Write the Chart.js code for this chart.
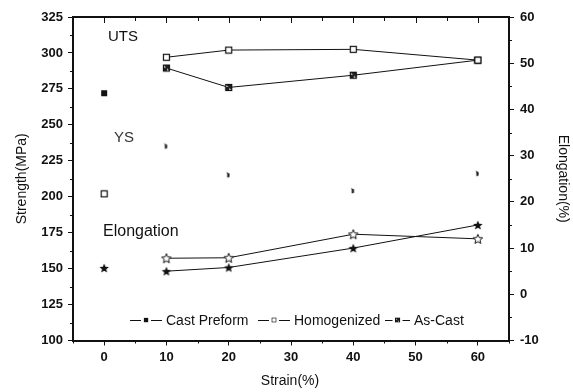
<!DOCTYPE html>
<html>
<head>
<meta charset="utf-8">
<script src="https://cdn.jsdelivr.net/npm/chart.js@4.4.1/dist/chart.umd.min.js"></script>
<style>
  html, body { margin: 0; padding: 0; background: #fff; }
  #wrap { width: 573px; height: 392px; }
</style>
</head>
<body>
<div id="wrap"><canvas id="chart" width="573" height="392"></canvas></div>
<script>
/* ===== data ===== */
const strainTicks = [0, 10, 20, 30, 40, 50, 60];
const strengthTicks = [100, 125, 150, 175, 200, 225, 250, 275, 300, 325];
const elongTicks = [-10, 0, 10, 20, 30, 40, 50, 60];

const preformStrain = [0];
const strain = [10, 20, 40, 60];

// UTS (MPa)
const utsPreform = [272];
const utsHomogenized = [297, 302, 302.5, 295];
const utsAsCast = [289.5, 276, 284.5, 295];

// YS (MPa)
const ysPreform = [202];
const ysDeformed = [235, 215, 204, 216];

// Elongation (%)
const elongPreform = [5.7];
const elongHomogenized = [7.8, 7.9, 13, 12];
const elongAsCast = [5, 5.8, 10, 15];

const FONT = '"Liberation Sans", Arial, sans-serif';

/* ===== point marks ===== */
function mark(size, draw) {
    const c = document.createElement('canvas');
    c.width = size; c.height = size;
    draw(c.getContext('2d'), size);
    return c;
}

function starPath(g, cx, cy, r) {
    g.beginPath();
    for (let i = 0; i < 10; i++) {
        const rr = i % 2 === 0 ? r : r * 0.45;
        const a = -Math.PI / 2 + i * Math.PI / 5;
        const px = cx + rr * Math.cos(a), py = cy + rr * Math.sin(a);
        if (i === 0) g.moveTo(px, py); else g.lineTo(px, py);
    }
    g.closePath();
}

const sqFilled = mark(8, (g, s) => { g.fillStyle = '#111'; g.fillRect(1, 1, s - 2, s - 2); });
const sqOpen = mark(9, (g, s) => {
    g.fillStyle = '#fff'; g.fillRect(1, 1, s - 2, s - 2);
    g.strokeStyle = '#111'; g.lineWidth = 1.2; g.strokeRect(1.5, 1.5, s - 3, s - 3);
});
const sqHalf = mark(9, (g, s) => {
    g.fillStyle = '#fff'; g.fillRect(1, 1, s - 2, s - 2);
    g.fillStyle = '#222';
    g.beginPath(); g.moveTo(1.5, 1.5); g.lineTo(s - 1.5, 1.5); g.lineTo(s - 1.5, s - 1.5); g.closePath(); g.fill();
    g.fillRect(2, 4, 3, 3);
    g.strokeStyle = '#111'; g.lineWidth = 1.2; g.strokeRect(1.5, 1.5, s - 3, s - 3);
});
const starOpen = mark(12, (g, s) => {
    starPath(g, s / 2, s / 2 + 0.5, 5);
    g.fillStyle = '#fff'; g.fill();
    g.strokeStyle = '#111'; g.lineWidth = 1; g.stroke();
});
const starFilled = mark(12, (g, s) => {
    starPath(g, s / 2, s / 2 + 0.5, 5);
    g.fillStyle = '#111'; g.fill();
});
// the YS marks are only half printed in the scan: small dark crescents
const ysMark = mark(8, (g) => {
    g.fillStyle = '#111';
    g.beginPath();
    g.moveTo(1.5, 0.5);
    g.quadraticCurveTo(7, 3, 2.5, 7.5);
    g.quadraticCurveTo(4.5, 4, 1.5, 0.5);
    g.closePath(); g.fill();
    g.fillRect(2.5, 2, 2, 4);
});

function pts(xs, ys) { return xs.map((x, i) => ({ x: x, y: ys[i] })); }

function series(data, style, axis, line) {
    return {
        data: data,
        yAxisID: axis,
        showLine: line,
        borderColor: '#111',
        borderWidth: 1,
        pointStyle: style,
        pointRadius: 4,
        pointHoverRadius: 4,
        backgroundColor: '#111'
    };
}

/* ===== axes decoration, notes and legend ===== */
const decor = {
    id: 'decor',
    afterDraw(chart) {
        const g = chart.ctx;
        const a = chart.chartArea;
        const x = chart.scales.x, y = chart.scales.y, y1 = chart.scales.y1;
        g.save();
        g.strokeStyle = '#111';

        // top frame line
        g.lineWidth = 2;
        g.beginPath(); g.moveTo(a.left - 1, a.top); g.lineTo(a.right + 1, a.top); g.stroke();

        g.lineWidth = 1;
        g.beginPath();
        // minor ticks x, ticks on top edge pointing down
        for (let v = -5; v <= 65; v += 5) {
            const px = Math.round(x.getPixelForValue(v)) + 0.5;
            const major = v % 10 === 0;
            if (!major) { g.moveTo(px, a.bottom); g.lineTo(px, a.bottom + 3); }
            if (v > -5 && v < 65) { g.moveTo(px, a.top); g.lineTo(px, a.top + (major ? 6 : 4)); }
        }
        // minor ticks left
        for (let v = 112.5; v < 325; v += 25) {
            const py = Math.round(y.getPixelForValue(v)) + 0.5;
            g.moveTo(a.left, py); g.lineTo(a.left - 3, py);
        }
        // minor ticks right
        for (let v = -5; v < 60; v += 10) {
            const py = Math.round(y1.getPixelForValue(v)) + 0.5;
            g.moveTo(a.right, py); g.lineTo(a.right + 3, py);
        }
        g.stroke();

        // notes
        g.fillStyle = '#111';
        g.textBaseline = 'middle';
        g.textAlign = 'left';
        g.font = '15px ' + FONT;
        g.fillText('UTS', 108, 37);
        g.fillStyle = '#333';
        g.fillText('YS', 114, 138);
        g.fillStyle = '#111';
        g.font = '16px ' + FONT;
        g.fillText('Elongation', 103, 232);

        // legend
        const items = [
            { x: 130, w: 32, m: sqFilled, label: 'Cast Preform' },
            { x: 258, w: 32, m: sqOpen, label: 'Homogenized' },
            { x: 385, w: 25, m: sqHalf, label: 'As-Cast' }
        ];
        const ly = 320;
        g.font = '14px ' + FONT;
        g.lineWidth = 1.2;
        items.forEach(it => {
            const mid = it.x + it.w / 2;
            g.beginPath();
            g.moveTo(it.x, ly + 0.5); g.lineTo(mid - 5, ly + 0.5);
            g.moveTo(mid + 5, ly + 0.5); g.lineTo(it.x + it.w, ly + 0.5);
            g.stroke();
            g.drawImage(it.m, mid - 3, ly - 3, 6, 6);
            g.fillText(it.label, it.x + it.w + 4, ly + 1);
        });

        // axis titles
        g.font = '14px ' + FONT;
        g.textAlign = 'center';
        g.fillText('Strain(%)', 290, 381);

        g.translate(22, (a.top + a.bottom) / 2);
        g.rotate(-Math.PI / 2);
        g.fillText('Strength(MPa)', 0, 0);
        g.setTransform(1, 0, 0, 1, 0, 0);

        g.translate(563, (a.top + a.bottom) / 2);
        g.rotate(Math.PI / 2);
        g.fillText('Elongation(%)', 0, 0);
        g.restore();
    }
};

function fixTicks(list) {
    return s => { s.ticks = list.map(v => ({ value: v })); };
}

const tickFont = { family: FONT, size: 13, weight: 'bold' };
const axisGrid = { display: true, drawOnChartArea: false, drawTicks: true, tickLength: 5, color: '#111', lineWidth: 1 };
const axisBorder = { display: true, color: '#111', width: 2 };

new Chart(document.getElementById('chart'), {
    type: 'scatter',
    data: {
        datasets: [
            series(pts(strain, utsHomogenized), sqOpen, 'y', true),
            series(pts(strain, utsAsCast), sqHalf, 'y', true),
            series(pts(preformStrain, utsPreform), sqFilled, 'y', false),
            series(pts(preformStrain, ysPreform), sqOpen, 'y', false),
            series(pts(strain, ysDeformed), ysMark, 'y', false),
            series(pts(strain, elongHomogenized), starOpen, 'y1', true),
            series(pts(strain, elongAsCast), starFilled, 'y1', true),
            series(pts(preformStrain, elongPreform), starFilled, 'y1', false)
        ]
    },
    options: {
        responsive: false,
        animation: false,
        events: [],
        layout: { padding: { top: 17, left: 0, right: 0, bottom: 0 } },
        plugins: { legend: { display: false }, tooltip: { enabled: false } },
        scales: {
            x: {
                type: 'linear', min: -5, max: 65,
                afterBuildTicks: fixTicks(strainTicks),
                afterFit: s => { s.height = 51.5; },
                grid: axisGrid, border: axisBorder,
                ticks: { color: '#111', font: tickFont, padding: 4, maxRotation: 0 }
            },
            y: {
                type: 'linear', position: 'left', min: 100, max: 325,
                afterBuildTicks: fixTicks(strengthTicks),
                afterFit: s => { s.width = 73; },
                grid: axisGrid, border: axisBorder,
                ticks: { color: '#111', font: tickFont, padding: 5 }
            },
            y1: {
                type: 'linear', position: 'right', min: -10, max: 60,
                afterBuildTicks: fixTicks(elongTicks),
                afterFit: s => { s.width = 64; },
                grid: axisGrid, border: axisBorder,
                ticks: { color: '#111', font: tickFont, padding: 6 }
            }
        }
    },
    plugins: [decor]
});
</script>
</body>
</html>
